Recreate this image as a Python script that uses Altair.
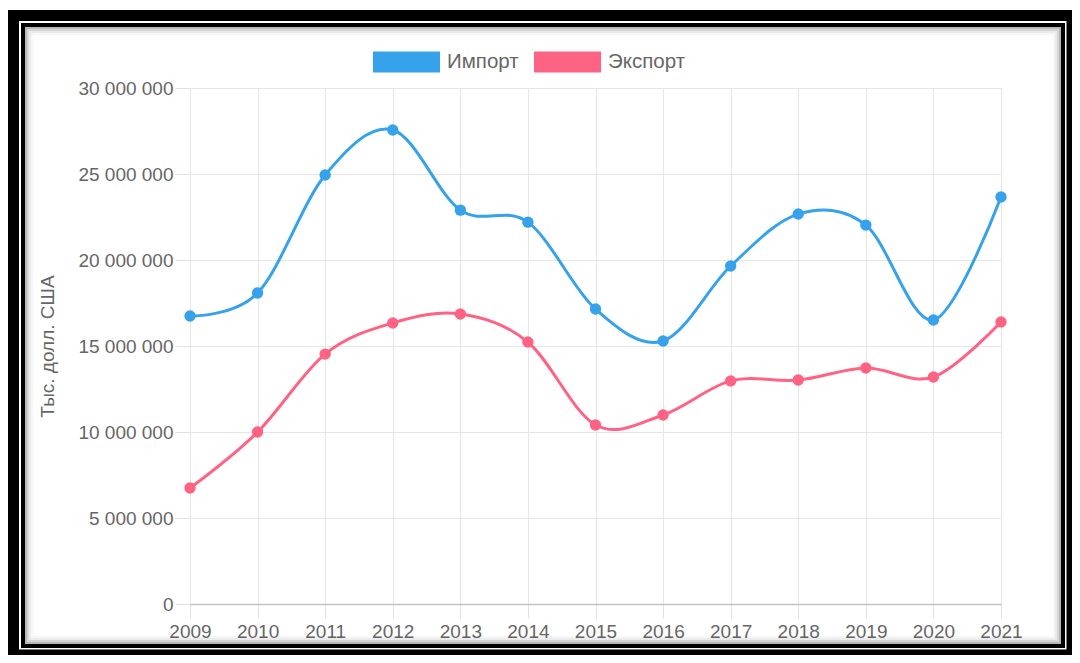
import altair as alt
import pandas as pd

years = list(range(2009, 2022))
import_vals = [16.74e6, 18.08e6, 24.94e6, 27.56e6, 22.90e6, 22.20e6, 17.15e6,
               15.29e6, 19.65e6, 22.67e6, 22.03e6, 16.51e6, 23.66e6]
export_vals = [6.74e6, 10.00e6, 14.53e6, 16.34e6, 16.86e6, 15.23e6, 10.41e6,
               10.99e6, 12.97e6, 13.02e6, 13.72e6, 13.20e6, 16.40e6]
series_names = ["Импорт", "Экспорт"]
series_colors = ["#36A2EB", "#FF6384"]
y_title = "Тыс. долл. США"
y_ticks = [0, 5e6, 10e6, 15e6, 20e6, 25e6, 30e6]

rows = []
for name, vals in zip(series_names, [import_vals, export_vals]):
    for yr, v in zip(years, vals):
        rows.append({"year": yr, "value": v, "series": name})
df = pd.DataFrame(rows)

FONT = "Liberation Sans"
FS = 19
W, H = 811, 516

x_enc = alt.X("year:O", scale=alt.Scale(type="point", padding=0),
              axis=alt.Axis(labelAngle=0, labelFontSize=FS, labelColor="#666666",
                            labelFont=FONT, tickSize=14, tickColor="#e2e2e2",
                            labelPadding=4, gridColor="#e6e6e6", grid=True,
                            domainColor="#c4c4c4", domainWidth=1.5, title=None))
y_enc = alt.Y("value:Q", scale=alt.Scale(domain=[0, 30e6], nice=False),
              axis=alt.Axis(values=y_ticks, format=",d", labelFontSize=FS,
                            labelColor="#666666", labelFont=FONT, tickSize=15,
                            tickColor="#e2e2e2", labelPadding=2, gridColor="#e6e6e6",
                            domain=False, title=y_title, titleFontSize=FS,
                            titleColor="#666666", titleFont=FONT,
                            titleFontWeight="normal", titleX=-143, titleY=H / 2,
                            titleAngle=270, titleAlign="center",
                            titleBaseline="middle"))
color_scale = alt.Scale(domain=series_names, range=series_colors)
legend = alt.Legend(orient="none", legendX=183, legendY=-59.5,
                    direction="horizontal", title=None,
                    symbolType="M-1,-0.313H1V0.313H-1Z",
                    symbolSize=4489, symbolStrokeWidth=0,
                    symbolOpacity=1, labelFontSize=20.5,
                    labelColor="#666666", labelFont=FONT,
                    labelOffset=7, columnPadding=15)

base = alt.Chart(df).encode(
    x=x_enc, y=y_enc,
    color=alt.Color("series:N", scale=color_scale, sort=series_names, legend=legend),
)
lines = base.mark_line(interpolate="cardinal", tension=0, strokeWidth=3)
points = base.mark_point(filled=True, size=130, opacity=1)

frame_df = pd.DataFrame({"k": [0]})


def frame(x, x2, y, y2, color, width, opacity=1.0):
    return alt.Chart(frame_df).mark_rect(
        fillOpacity=0, stroke=color, strokeWidth=width, strokeOpacity=opacity
    ).encode(x=alt.value(x), x2=alt.value(x2), y=alt.value(y), y2=alt.value(y2))


frames = [
    frame(-176.5, 882, -72.5, 567, "#000000", 11),
    frame(-167, 873, -63, 558, "#000000", 4),
    frame(-164, 870, -60, 555, "#000000", 2, 0.28),
    frame(-162, 868, -58, 553, "#000000", 2, 0.16),
    frame(-160, 866, -56, 551, "#000000", 2, 0.08),
    frame(-158, 864, -54, 549, "#000000", 2, 0.03),
]

chart = alt.layer(lines, points, *frames).properties(
    width=W, height=H,
    autosize=alt.AutoSizeParams(type="none"),
    padding={"left": 182, "top": 80, "right": 71, "bottom": 51},
).configure_view(strokeWidth=0).configure(
    locale={"number": {"decimal": ",", "thousands": " ", "grouping": [3],
                       "currency": ["", ""]}}
)

chart.save("out.html", embed_options={"renderer": "svg", "actions": False})
